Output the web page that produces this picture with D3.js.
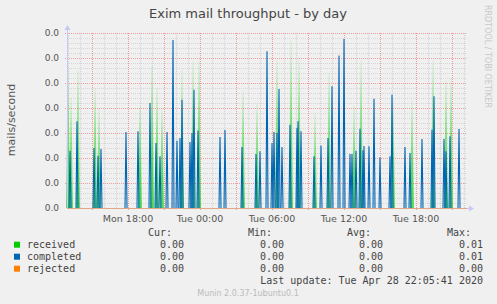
<!DOCTYPE html>
<html><head><meta charset="utf-8">
<script src="https://cdn.jsdelivr.net/npm/d3@7"></script>
<style>html,body{margin:0;padding:0;background:#F0F0F0;}svg{display:block}</style>
</head><body>
<svg id="c" width="497" height="304"></svg>
<script>
// ---------- data ----------
const title = "Exim mail throughput - by day";
const yLabel = "mails/second";
const vendorText = "RRDTOOL / TOBI OETIKER";
const footerText = "Munin 2.0.37-1ubuntu0.1";
const lastUpdate = "Last update: Tue Apr 28 22:05:41 2020";
const timeRange = ["Mon 12:55", "Tue 22:15"];
const yDomain = [0, 0.007];
const yTicks = [0, 0.001, 0.002, 0.003, 0.004, 0.005, 0.006, 0.007];
const xTickTimes = ["Mon 18:00", "Tue 00:00", "Tue 06:00", "Tue 12:00", "Tue 18:00"];
const xTickLabels = ["Mon 18:00", "Tue 00:00", "Tue 06:00", "Tue 12:00", "Tue 18:00"];
const seriesNames = ["received", "completed", "rejected"];
const seriesColors = ["#00CC00", "#0066B3", "#FF8000"];

const receivedTimes = ["Mon 13:00","Mon 13:15","Mon 13:50","Mon 15:15","Mon 15:35","Mon 19:00","Mon 20:00","Mon 20:25","Mon 20:50","Mon 22:30","Mon 23:25","Mon 23:55","Tue 03:35","Tue 04:45","Tue 06:25","Tue 07:35","Tue 08:15","Tue 09:35","Tue 10:45","Tue 12:50","Tue 13:25","Tue 16:05","Tue 17:40","Tue 19:25","Tue 20:30","Tue 20:55"];
const receivedValues = [0.0056,0.0044,0.0055,0.0048,0.0040,0.0041,0.0057,0.0048,0.0040,0.0055,0.0059,0.0059,0.0047,0.0042,0.0059,0.0067,0.0060,0.0038,0.0054,0.0041,0.0059,0.0044,0.0043,0.0059,0.0051,0.0052];

const completedTimes = ["Mon 13:10","Mon 13:45","Mon 15:10","Mon 15:30","Mon 15:45","Mon 17:50","Mon 18:50","Mon 19:50","Mon 20:20","Mon 20:40","Mon 21:15","Mon 21:45","Mon 22:05","Mon 22:20","Mon 22:30","Mon 23:10","Mon 23:20","Mon 23:30","Mon 23:50","Tue 01:40","Tue 02:05","Tue 03:30","Tue 04:40","Tue 05:00","Tue 05:35","Tue 06:00","Tue 06:10","Tue 06:25","Tue 06:35","Tue 06:50","Tue 07:30","Tue 08:05","Tue 08:10","Tue 08:25","Tue 09:30","Tue 10:05","Tue 10:40","Tue 11:00","Tue 11:35","Tue 12:00","Tue 12:30","Tue 12:40","Tue 13:00","Tue 13:20","Tue 13:35","Tue 13:40","Tue 14:05","Tue 14:30","Tue 15:00","Tue 15:50","Tue 16:00","Tue 17:05","Tue 17:30","Tue 18:30","Tue 19:20","Tue 19:30","Tue 20:20","Tue 20:30","Tue 20:50","Tue 21:35"];
const completedValues = [0.00229,0.00347,0.0024,0.00209,0.00236,0.00304,0.00307,0.0042,0.0026,0.00207,0.00304,0.00672,0.00269,0.0028,0.00433,0.00264,0.0030,0.00473,0.0031,0.00284,0.00312,0.00244,0.00216,0.00227,0.00627,0.0026,0.00304,0.0030,0.00476,0.00244,0.00333,0.0032,0.00347,0.00307,0.00207,0.0025,0.0028,0.00487,0.0061,0.00676,0.00216,0.00216,0.00229,0.00317,0.00231,0.00248,0.00247,0.00437,0.00203,0.00207,0.00453,0.00244,0.0022,0.00276,0.00313,0.00447,0.00276,0.00227,0.00287,0.00316];

const rejectedTimes = ["Mon 12:55", "Tue 22:15"];
const rejectedValues = [0, 0];

const curValues = [0, 0, 0];
const minValues = [0, 0, 0];
const avgValues = [0, 0, 0];
const maxValues = [0.01, 0.01, 0.00];

// ---------- helpers ----------
const parseFull = d3.timeParse("%Y-%m-%d %H:%M");
const pt = s => parseFull(`2020-04-${s.startsWith("Mon") ? 27 : 28} ${s.slice(4)}`);
const STEP = 5 * 60 * 1000;

const svg = d3.select("#c");
const W = 497, H = 304;
const L = 67, R = 467, T = 33, B = 208;

const x = d3.scaleTime().domain(timeRange.map(pt)).range([L, R]);
const y = d3.scaleLinear().domain(yDomain).range([B, T]);

const defs = svg.append("defs");
const g = defs.append("linearGradient").attr("id", "gfade")
  .attr("x1", 0).attr("y1", 1).attr("x2", 0).attr("y2", 0);
g.append("stop").attr("offset", 0).attr("stop-color", seriesColors[0]).attr("stop-opacity", 0.95);
g.append("stop").attr("offset", 0.35).attr("stop-color", seriesColors[0]).attr("stop-opacity", 0.6);
g.append("stop").attr("offset", 1).attr("stop-color", seriesColors[0]).attr("stop-opacity", 0.08);

svg.append("rect").attr("width", W).attr("height", H).attr("fill", "#F0F0F0");

// ---------- grid ----------
const grid = svg.append("g").attr("shape-rendering", "crispEdges");
const minorY = d3.range(yDomain[0], yDomain[1] + 1e-9, 0.0002)
  .filter(v => !yTicks.some(t => Math.abs(t - v) < 1e-9));
grid.selectAll(".hm").data(minorY).join("line")
  .attr("x1", L).attr("x2", R).attr("y1", d => Math.round(y(d)) + 0.5).attr("y2", d => Math.round(y(d)) + 0.5)
  .attr("stroke", "#D6D6D6").attr("stroke-dasharray", "1,1");
const hours = d3.timeHour.range(x.domain()[0], x.domain()[1]);
const minorX = hours.filter(h => h.getHours() % 3 !== 0);
const majorX = hours.filter(h => h.getHours() % 3 === 0);
grid.selectAll(".vm").data(minorX).join("line")
  .attr("x1", d => Math.round(x(d)) + 0.5).attr("x2", d => Math.round(x(d)) + 0.5)
  .attr("y1", T).attr("y2", B)
  .attr("stroke", "#D0D0D0").attr("stroke-dasharray", "1,1");
grid.selectAll(".hM").data(yTicks.filter(v => v > 0)).join("line")
  .attr("x1", L - 2).attr("x2", R).attr("y1", d => Math.round(y(d)) + 0.5).attr("y2", d => Math.round(y(d)) + 0.5)
  .attr("stroke", "#EE9C9C").attr("stroke-dasharray", "1,1");
grid.selectAll(".vM").data(majorX).join("line")
  .attr("x1", d => Math.round(x(d)) + 0.5).attr("x2", d => Math.round(x(d)) + 0.5)
  .attr("y1", T).attr("y2", B + 3)
  .attr("stroke", "#EE9C9C").attr("stroke-dasharray", "1,1");

// ---------- series ----------
const line = d3.line().x(d => x(d[0])).y(d => y(d[1]));
const spike = (t, v) => { const d = pt(t); return [[new Date(+d - STEP), 0], [d, v], [new Date(+d + STEP), 0]]; };

svg.append("g").selectAll("path").data(receivedTimes.map((t, i) => spike(t, receivedValues[i])))
  .join("path").attr("d", line).attr("fill", "none")
  .attr("stroke", "url(#gfade)").attr("stroke-width", 1.3);

svg.append("g").selectAll("path").data(completedTimes.map((t, i) => spike(t, completedValues[i])))
  .join("path").attr("d", line).attr("fill", "none")
  .attr("stroke", seriesColors[1]).attr("stroke-width", 1.1);

// axes (lavender)
const ax = svg.append("g");
ax.append("line").attr("x1", L + 0.5).attr("x2", L + 0.5).attr("y1", B).attr("y2", 28)
  .attr("stroke", "#C8C8F4").attr("shape-rendering", "crispEdges");
ax.append("path").attr("d", `M${L - 2.5},30 L${L + 3.5},30 L${L + 0.5},25 Z`).attr("fill", "#C8C8F4");
ax.append("line").attr("x1", L).attr("x2", 470).attr("y1", B + 0.5).attr("y2", B + 0.5)
  .attr("stroke", "#C8C8F4").attr("shape-rendering", "crispEdges");
ax.append("path").attr("d", `M469,${B - 2.5} L469,${B + 3.5} L474,${B + 0.5} Z`).attr("fill", "#C8C8F4");

// rejected line
svg.append("path").datum(rejectedTimes.map((t, i) => [pt(t), rejectedValues[i]]))
  .attr("d", d3.line().x(d => x(d[0])).y(d => Math.round(y(d[1])) + 0.5))
  .attr("fill", "none").attr("stroke", seriesColors[2]).attr("stroke-opacity", 0.45)
  .attr("stroke-width", 1).attr("shape-rendering", "crispEdges");

// ---------- text ----------
const fs = "'DejaVu Sans', sans-serif";
const fm = "'DejaVu Sans Mono', monospace";
svg.append("text").attr("x", 248).attr("y", 17.5).attr("text-anchor", "middle")
  .attr("font-family", fs).attr("font-size", 13).attr("fill", "#444").text(title);
svg.append("text").attr("transform", "translate(15,120) rotate(-90)").attr("text-anchor", "middle")
  .attr("font-family", fs).attr("font-size", 11).attr("fill", "#555").text(yLabel);
svg.append("text").attr("transform", "translate(484.5,5) rotate(90)").attr("text-anchor", "start")
  .attr("font-family", fs).attr("font-size", 8).attr("fill", "#C8C8C8").text(vendorText);

const fmt = d3.format(".1f");
svg.append("g").selectAll("text").data(yTicks).join("text")
  .attr("x", 59).attr("y", d => y(d)).attr("dy", "0.35em").attr("text-anchor", "end")
  .attr("font-family", fs).attr("font-size", 9).attr("fill", "#555").text(d => fmt(d));
svg.append("g").selectAll("text").data(xTickTimes).join("text")
  .attr("x", d => x(pt(d))).attr("y", 221.5).attr("text-anchor", "middle")
  .attr("font-family", fs).attr("font-size", 9.5).attr("fill", "#555").text((d, i) => xTickLabels[i]);

// legend
const colsX = [184, 284, 383, 483];
const heads = ["Cur:", "Min:", "Avg:", "Max:"];
const leg = svg.append("g").attr("font-family", fm).attr("font-size", 10).attr("fill", "#444");
leg.selectAll(".h").data(heads).join("text").attr("x", (d, i) => colsX[i] - 12).attr("y", 236)
  .attr("text-anchor", "end").text(d => d);
const f2 = d3.format(".2f");
seriesNames.forEach((n, i) => {
  const by = 248.3 + i * 12;
  leg.append("rect").attr("x", 14).attr("y", by - 6.6).attr("width", 6).attr("height", 6).attr("fill", seriesColors[i]);
  leg.append("text").attr("x", 27).attr("y", by).text(n);
  [curValues[i], minValues[i], avgValues[i], maxValues[i]].forEach((v, j) => {
    leg.append("text").attr("x", colsX[j]).attr("y", by).attr("text-anchor", "end").text(f2(v));
  });
});
leg.append("text").attr("x", 483).attr("y", 284).attr("text-anchor", "end").text(lastUpdate);
svg.append("text").attr("x", 248).attr("y", 296).attr("text-anchor", "middle")
  .attr("font-family", fs).attr("font-size", 8).attr("fill", "#BBB").text(footerText);
</script>
</body></html>
